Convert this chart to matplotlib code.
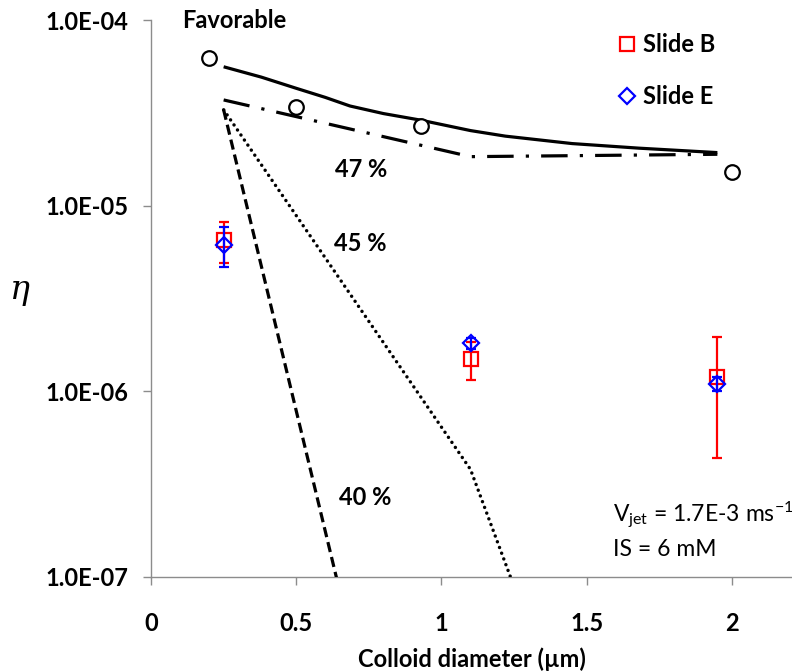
import matplotlib
matplotlib.use("Agg")
import matplotlib.pyplot as plt
from matplotlib.ticker import FixedLocator, FuncFormatter, NullLocator

plt.rcParams["font.family"] = ["Lato", "DejaVu Sans"]
plt.rcParams["mathtext.fontset"] = "custom"
plt.rcParams["mathtext.rm"] = "Lato"
plt.rcParams["mathtext.it"] = "DejaVu Serif:italic"

# favorable deposition (open circles) and model curves
fav_x = [0.2, 0.5, 0.93, 2.0]
fav_y = [6.3e-5, 3.43e-5, 2.7e-5, 1.52e-5]

fav_model_x = [0.25, 0.38, 0.5, 0.6, 0.685, 0.8, 0.93, 1.1, 1.22, 1.45,
               1.68, 1.95]
fav_model_y = [5.63e-5, 4.95e-5, 4.31e-5, 3.85e-5, 3.46e-5, 3.15e-5,
               2.9e-5, 2.55e-5, 2.38e-5, 2.17e-5, 2.05e-5, 1.94e-5]

model_x = [0.25, 1.1, 1.95]
model_47 = [3.73e-5, 1.845e-5, 1.9e-5]
model_45 = [3.3e-5, 3.8e-7, 1e-10]
model_40 = [3.3e-5, 1e-10, 1e-10]

# experimental data
slide_x = [0.25, 1.1, 1.95]
slide_b = [6.56e-6, 1.5e-6, 1.2e-6]
slide_b_err = [1.65e-6, 0.35e-6, 0.76e-6]
slide_e = [6.2e-6, 1.82e-6, 1.1e-6]
slide_e_err = [1.5e-6, 0.12e-6, 0.1e-6]

fig = plt.figure(figsize=(7.92, 6.72), dpi=100)
ax = fig.add_axes([0.1907, 0.1414, 0.8093, 0.8281])

ax.plot(fav_model_x, fav_model_y, "-", color="black", linewidth=2.3,
        solid_capstyle="butt", solid_joinstyle="round", zorder=3)
ax.plot(model_x, model_47, color="black", linewidth=2.3,
        dashes=[8.3, 3.8, 1, 3.8], dash_capstyle="butt", zorder=3)
ax.plot(model_x, model_45, color="black", linewidth=2.5,
        dashes=[0.01, 1.75], dash_capstyle="round", zorder=3)
ax.plot(model_x, model_40, color="black", linewidth=2.3,
        dashes=[3.2, 1.6], dash_capstyle="butt", zorder=3)

ax.plot(fav_x, fav_y, "o", markersize=10.5, markerfacecolor="white",
        markeredgecolor="black", markeredgewidth=1.6, zorder=4)

eb_b = ax.errorbar(slide_x, slide_b, yerr=slide_b_err, fmt="s",
                   color="red", markersize=9.4, markerfacecolor="none",
                   markeredgewidth=1.6, elinewidth=1.6, capsize=3.3,
                   capthick=1.6, label="Slide B", zorder=5)
eb_e = ax.errorbar(slide_x, slide_e, yerr=slide_e_err, fmt="D",
                   color="blue", markersize=8.0, markerfacecolor="none",
                   markeredgewidth=1.6, elinewidth=1.6, capsize=3.3,
                   capthick=1.6, label="Slide E", zorder=6)

ax.set_yscale("log")
ax.set_xlim(0, 2.207)
ax.set_ylim(1e-7, 1e-4)

ax.xaxis.set_major_locator(FixedLocator([0, 0.5, 1, 1.5, 2]))
ax.xaxis.set_major_formatter(FuncFormatter(lambda v, p: f"{v:g}"))
ax.yaxis.set_major_locator(FixedLocator([1e-7, 1e-6, 1e-5, 1e-4]))
ax.yaxis.set_minor_locator(NullLocator())
ax.yaxis.set_major_formatter(FuncFormatter(lambda v, p: f"{v:.1E}"))

for side in ("top", "right"):
    ax.spines[side].set_visible(False)
for side in ("left", "bottom"):
    ax.spines[side].set_color("#8c8c8c")
    ax.spines[side].set_linewidth(1.0)
ax.tick_params(axis="both", direction="out", length=6, width=1.0,
               color="#8c8c8c", labelsize=17)
ax.tick_params(axis="y", pad=10)
ax.tick_params(axis="x", pad=19)
for lab in ax.get_xticklabels() + ax.get_yticklabels():
    lab.set_fontweight("bold")

ax.set_xlabel("Colloid diameter (µm)", fontsize=17, fontweight="bold",
              labelpad=9)
fig.text(20 / 792, 1 - 293 / 672, r"$\eta$", fontsize=24,
         ha="center", va="center")

ax.text(0.048, 1.0, "Favorable", transform=ax.transAxes,
        fontsize=17, fontweight="bold", ha="left", va="center")
ax.text(0.723, 1.57e-5, "47 %", fontsize=17, fontweight="bold",
        ha="center", va="center")
ax.text(0.72, 6.24e-6, "45 %", fontsize=17, fontweight="bold",
        ha="center", va="center")
ax.text(0.737, 2.67e-7, "40 %", fontsize=17, fontweight="bold",
        ha="center", va="center")

fig.text(613 / 792, 1 - 515 / 672,
         r"V$_{\mathrm{jet}}$ = 1.7E-3 ms$^{\mathrm{-1}}$",
         fontsize=16.5, ha="left", va="center")
fig.text(613 / 792, 1 - 550 / 672, "IS = 6 mM", fontsize=16.5,
         ha="left", va="center")

leg = ax.legend(handles=[eb_b[0], eb_e[0]], labels=["Slide B", "Slide E"],
                loc="upper left", bbox_to_anchor=(606 / 792, 1 - 21 / 672),
                bbox_transform=fig.transFigure, frameon=False,
                prop={"size": 17, "weight": "bold"}, handlelength=0.8,
                handletextpad=0.25, labelspacing=1.25, borderpad=0)

fig.savefig("out.png", dpi=100)
